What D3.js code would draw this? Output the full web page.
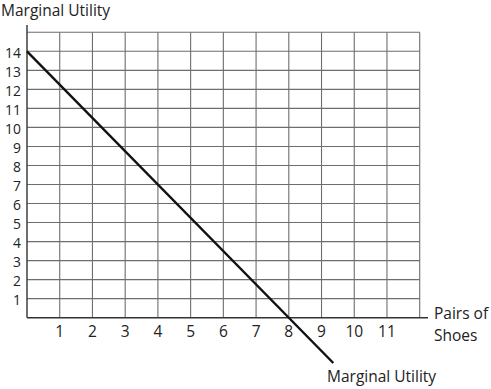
<!DOCTYPE html>
<html>
<head>
<meta charset="utf-8">
<script src="https://cdn.jsdelivr.net/npm/d3@7"></script>
<style>
  body { margin: 0; background: #fff; }
  text { font-family: "Open Sans", "Liberation Sans", sans-serif; fill: #222; font-size: 15.5px; }
</style>
</head>
<body>
<svg id="chart" width="491" height="389"></svg>
<script>
// Data
const xTicks = [1, 2, 3, 4, 5, 6, 7, 8, 9, 10, 11];
const yTicks = [1, 2, 3, 4, 5, 6, 7, 8, 9, 10, 11, 12, 13, 14];
const muX = [0, 9.36];        // marginal utility line, pairs of shoes
const muY = [14, -2.38];      // marginal utility line, utils
const gridX = [0, 12];
const gridY = [0, 15];

const svg = d3.select("#chart");

//Scales (origin at 27,318)
const x = d3.scaleLinear().domain([0, 12]).range([27, 419.7]);
const y = d3.scaleLinear().domain([0, 14]).range([317.7, 51.3]);

//Grid
const grid = svg.append("g").attr("id", "grid")
  .attr("stroke", "#6e6e6e")
  .attr("stroke-width", 1.1);

grid.selectAll("line.v")
  .data(d3.range(gridX[0] + 1, gridX[1] + 1))
  .enter().append("line")
  .classed("v", true)
  .attr("x1", d => x(d)).attr("x2", d => x(d))
  .attr("y1", y(gridY[0])).attr("y2", y(gridY[1]));

grid.selectAll("line.h")
  .data(d3.range(gridY[0] + 1, gridY[1] + 1))
  .enter().append("line")
  .classed("h", true)
  .attr("x1", x(gridX[0])).attr("x2", x(gridX[1]))
  .attr("y1", d => y(d)).attr("y2", d => y(d));

//Axes
const axes = svg.append("g").attr("stroke", "#333").attr("stroke-width", 1.4);
axes.append("line")
  .attr("x1", x(0)).attr("x2", x(0))
  .attr("y1", y(0)).attr("y2", 25);
axes.append("line")
  .attr("x1", x(0)).attr("x2", 428)
  .attr("y1", y(0)).attr("y2", y(0));

//Tick labels
svg.append("g").selectAll("text")
  .data(xTicks)
  .enter().append("text")
  .attr("x", d => x(d))
  .attr("y", 337)
  .attr("text-anchor", "middle")
  .text(d => d);

svg.append("g").selectAll("text")
  .data(yTicks)
  .enter().append("text")
  .attr("x", 21)
  .attr("y", d => y(d) + 6.5)
  .attr("text-anchor", "end")
  .style("font-size", "13.9px")
  .text(d => d);

//Marginal utility line
const line = d3.line().x(d => x(d[0])).y(d => y(d[1]));
svg.append("path")
  .datum(d3.zip(muX, muY))
  .attr("fill", "none")
  .attr("stroke", "#111")
  .attr("stroke-width", 2.4)
  .attr("d", line);

//Titles
svg.append("text").attr("x", 1).attr("y", 15.5).text("Marginal Utility");
svg.append("text").attr("x", 434).attr("y", 319).text("Pairs of");
svg.append("text").attr("x", 434).attr("y", 341).text("Shoes");
svg.append("text").attr("x", 327).attr("y", 382).text("Marginal Utility");
</script>
</body>
</html>
